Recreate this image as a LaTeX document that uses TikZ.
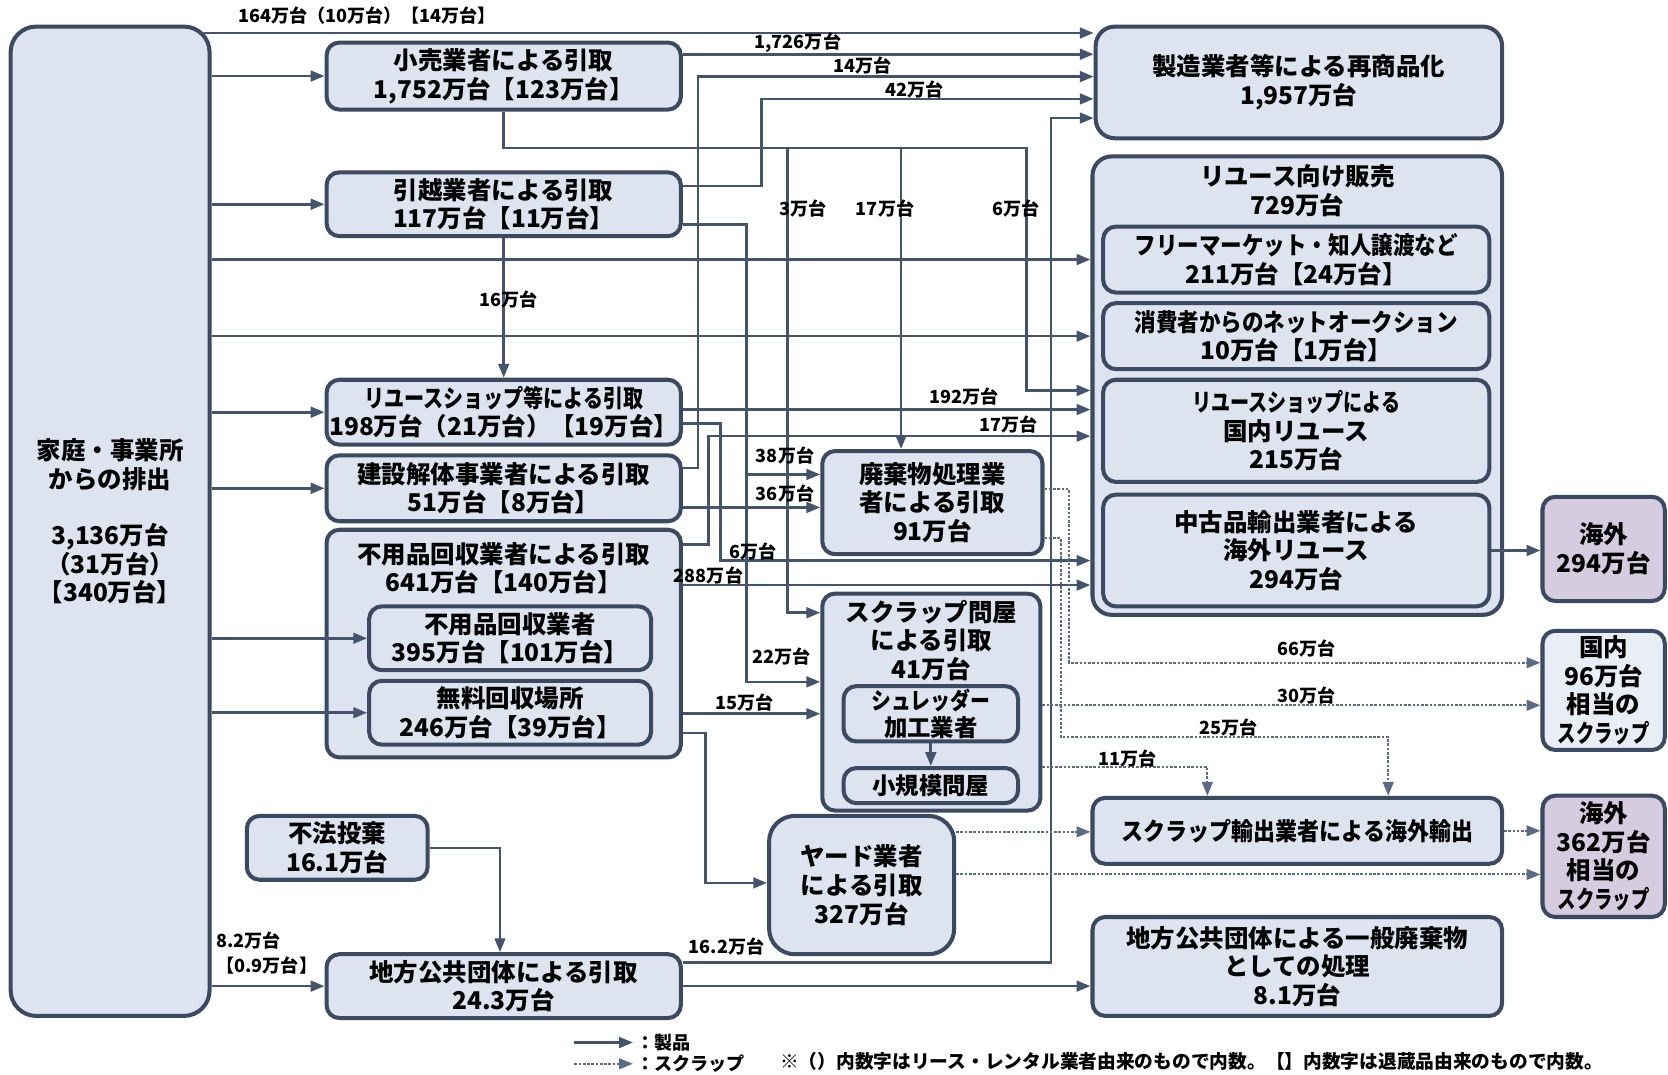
\documentclass[tikz,border=0pt]{standalone}
\usepackage{fontspec}
\setmainfont{Noto Sans CJK JP}
\usepackage{graphicx}
\usetikzlibrary{arrows.meta,calc}
\definecolor{bcol}{HTML}{3B4A61}
\definecolor{bfill}{HTML}{DDE3EF}
\definecolor{pfill}{HTML}{D5CCE0}
\definecolor{kfill}{HTML}{E9EDF5}
\definecolor{lcol}{HTML}{44546D}
\definecolor{scol}{HTML}{5B6B86}
\begin{document}
\begin{tikzpicture}[x=0.5pt,y=-0.5pt,
  bx/.style={draw=bcol, line width=1.9pt, rounded corners=6pt, fill=bfill, align=center, inner sep=0pt,
    font=\bfseries\fontsize{11.5}{13.5}\selectfont},
  txt/.style={align=center, inner sep=0pt, font=\bfseries\fontsize{11.5}{13.5}\selectfont},
  lbl/.style={inner sep=0pt, font=\bfseries\fontsize{8.5}{11.5}\selectfont},
  prod/.style={draw=lcol, line width=1.25pt, -{Triangle[length=6.5pt,width=5pt]}},
  scr/.style={draw=scol, line width=1pt, dash pattern=on 1.2pt off 0.8pt, -{Triangle[length=6.5pt,width=5pt]}}]
\useasboundingbox[fill=white] (0,0) rectangle (1568,1010);

% ---------- boxes ----------
\node[bx, rounded corners=12pt, minimum width=93.5pt, minimum height=465pt] (src) at (103.5,490)
  {家庭・事業所\\からの排出\\[13pt]3,136万台\\（31万台）\\【340万台】};
\node[bx, minimum width=166.5pt, minimum height=31.5pt] (kouri) at (473.5,71.5) {小売業者による引取\\1,752万台【123万台】};
\node[bx, minimum width=166.5pt, minimum height=30pt] (hikkoshi) at (473.5,192) {引越業者による引取\\117万台【11万台】};
\node[bx, minimum width=166.5pt, minimum height=30.5pt] (reuseshop) at (473.5,387.5) {\scalebox{0.82}[1]{リユースショップ等による引取}\\198万台（21万台）【19万台】};
\node[bx, minimum width=166.5pt, minimum height=31pt] (kensetsu) at (473.5,459) {建設解体事業者による引取\\51万台【8万台】};
\node[bx, minimum width=166.5pt, minimum height=107pt] (fuyou) at (473.5,605) {};
\node[txt] (fuyouT) at (473.5,534) {不用品回収業者による引取\\641万台【140万台】};
\node[bx, minimum width=132.5pt, minimum height=30pt] (fuyouin) at (479.5,600) {不用品回収業者\\395万台【101万台】};
\node[bx, minimum width=132.5pt, minimum height=30pt] (muryou) at (479.5,670) {無料回収場所\\246万台【39万台】};
\node[bx, minimum width=85pt, minimum height=30pt] (fuhou) at (317,797) {不法投棄\\16.1万台};
\node[bx, minimum width=166.5pt, minimum height=30pt] (chihou) at (473.5,927) {地方公共団体による引取\\24.3万台};

\node[bx, minimum width=103.5pt, minimum height=48.5pt] (haiki) at (876.5,472.5) {廃棄物処理業\\者による引取\\91万台};
\node[bx, minimum width=102.5pt, minimum height=102pt] (scrapton) at (875.5,660) {};
\node[txt] (scraptonT) at (875.5,602) {スクラップ問屋\\による引取\\41万台};
\node[bx, minimum width=82pt, minimum height=26pt, font=\bfseries\fontsize{11}{12.5}\selectfont] (shredder) at (875,671) {\scalebox{0.85}[1]{シュレッダー}\\加工業者};
\node[bx, minimum width=82pt, minimum height=16.5pt, font=\bfseries\fontsize{11}{12.5}\selectfont] (shoukibo) at (875,738.5) {小規模問屋};
\node[bx, rounded corners=12pt, minimum width=87pt, minimum height=65pt] (yard) at (810,832) {ヤード業者\\による引取\\327万台};

\node[bx, rounded corners=9pt, minimum width=191pt, minimum height=52.5pt] (seizo) at (1221,77.5) {製造業者等による再商品化\\1,957万台};
\node[bx, rounded corners=9pt, minimum width=192.5pt, minimum height=215.5pt] (reusesale) at (1219.5,362.5) {};
\node[txt] (reusesaleT) at (1219.5,179) {リユース向け販売\\729万台};
\node[bx, minimum width=181.5pt, minimum height=31pt] (flea) at (1218.5,244) {\scalebox{0.88}[1]{フリーマーケット・知人譲渡など}\\211万台【24万台】};
\node[bx, minimum width=181.5pt, minimum height=31pt] (netauc) at (1218.5,316) {\scalebox{0.88}[1]{消費者からのネットオークション}\\10万台【1万台】};
\node[bx, minimum width=181.5pt, minimum height=48pt] (domreuse) at (1218.5,405) {\scalebox{0.78}[1]{リユースショップによる}\\国内リユース\\215万台};
\node[bx, minimum width=181.5pt, minimum height=52.5pt] (export) at (1218.5,517.5) {中古品輸出業者による\\海外リユース\\294万台};
\node[bx, fill=pfill, minimum width=57.5pt, minimum height=49pt] (kaigai1) at (1507.5,516) {海外\\294万台};
\node[bx, fill=kfill, minimum width=57.5pt, minimum height=56pt] (kokunai) at (1507.5,649) {国内\\96万台\\相当の\\\scalebox{0.75}[1]{スクラップ}};
\node[bx, minimum width=192.5pt, minimum height=31pt] (scrapexp) at (1219.5,781) {\scalebox{0.9}[1]{スクラップ輸出業者による海外輸出}};
\node[bx, fill=pfill, minimum width=57.5pt, minimum height=57pt] (kaigai2) at (1507.5,805) {海外\\362万台\\相当の\\\scalebox{0.75}[1]{スクラップ}};
\node[bx, minimum width=192.5pt, minimum height=46.5pt] (ippan) at (1219.5,908.5) {地方公共団体による一般廃棄物\\としての処理\\8.1万台};

% ---------- product flows ----------
\draw[prod] ($(src.east |- 0,31)+(-7,0)$) -- (seizo.west |- 0,31);
\draw[prod] (src.east |- kouri.west) -- (kouri.west);
\draw[prod] (src.east |- hikkoshi.west) -- (hikkoshi.west);
\draw[prod] (src.east |- flea.west) -- (reusesale.west |- flea.west);
\draw[prod] (src.east |- netauc.west) -- (reusesale.west |- netauc.west);
\draw[prod] (src.east |- reuseshop.west) -- (reuseshop.west);
\draw[prod] (src.east |- kensetsu.west) -- (kensetsu.west);
\draw[prod] (src.east |- fuyouin.west) -- (fuyouin.west);
\draw[prod] (src.east |- muryou.west) -- (muryou.west);
\draw[prod] (src.east |- chihou.west) -- (chihou.west);

\draw[prod] (kouri.east |- 0,51) -- (seizo.west |- 0,51);
\draw[prod] (kouri.south) |- (965,139) |- (reusesale.west |- 0,367);
\draw[prod] (kouri.south) |- (740,139) |- (scrapton.west |- 0,576);
\draw[prod] (kouri.south) |- (847,139) -- (haiki.north -| 847,0);

\draw[prod] (hikkoshi.east |- 0,175) -| (716,93) -- (seizo.west |- 0,93);
\draw[prod] (hikkoshi.east |- 0,211) -| (702,641) -- (scrapton.west |- 0,641);
\draw[prod] (hikkoshi.east |- 0,211) -| (702,446) -- (haiki.west |- 0,446);
\draw[prod] (hikkoshi.south) -- (reuseshop.north);

\draw[prod] (reuseshop.east |- 0,385) -- (reusesale.west |- 0,385);
\draw[prod] (reuseshop.east |- 0,398) -| (677,527) -- (reusesale.west |- 0,527);

\draw[prod] (kensetsu.east |- 0,440) -| (656,72) -- (seizo.west |- 0,72);
\draw[prod] (kensetsu.east |- 0,477) -- (haiki.west |- 0,477);

\draw[prod] (fuyou.east |- 0,512) -| (666,410) -- (reusesale.west |- 0,410);
\draw[prod] (fuyou.east |- 0,550) -- (reusesale.west |- 0,550);
\draw[prod] (fuyou.east |- 0,671) -- (scrapton.west |- 0,671);
\draw[prod] (fuyou.east |- 0,689) -| (663,830) -- (yard.west |- 0,830);

\draw[prod] (fuhou.east) -| (chihou.north -| 470,0);
\draw[prod] (chihou.east |- 0,905) -| (988,111) -- (seizo.west |- 0,111);
\draw[prod] (chihou.east) -- (ippan.west |- chihou.east);
\draw[prod] (export.east) -- (kaigai1.west |- export.east);
\draw[prod] (shredder.south) -- (shoukibo.north);

% ---------- scrap flows ----------
\draw[scr] (haiki.east |- 0,460) -| (1005,623) -- (kokunai.west |- 0,623);
\draw[scr] (haiki.east |- 0,506) -| (997,693) -| (scrapexp.north -| 1305,0);
\draw[scr] (scrapton.east |- 0,663) -- (kokunai.west |- 0,663);
\draw[scr] (scrapton.east |- 0,721) -| (scrapexp.north -| 1135,0);
\draw[scr] (yard.east |- 0,782) -- (scrapexp.west |- 0,782);
\draw[scr] (yard.east |- 0,822) -- (kaigai2.west |- 0,822);
\draw[scr] (scrapexp.east) -- (kaigai2.west |- scrapexp.east);

% ---------- labels ----------
\node[lbl] (l164) at (345,15) {164万台（10万台）【14万台】};
\node[lbl] (l1726) at (750,40) {1,726万台};
\node[lbl] (l14) at (811,62) {14万台};
\node[lbl] (l42) at (860,84) {42万台};
\node[lbl] (l3) at (755,196) {3万台};
\node[lbl] (l17a) at (832,196) {17万台};
\node[lbl] (l6a) at (955,196) {6万台};
\node[lbl] (l16) at (478,282) {16万台};
\node[lbl] (l192) at (906,373) {192万台};
\node[lbl] (l17b) at (948,399) {17万台};
\node[lbl] (l38) at (738,428) {38万台};
\node[lbl] (l36) at (738,464) {36万台};
\node[lbl] (l6b) at (708,518) {6万台};
\node[lbl] (l288) at (666,541) {288万台};
\node[lbl] (l22) at (735,617) {22万台};
\node[lbl] (l15) at (700,660) {15万台};
\node[lbl] (l162) at (683,890) {16.2万台};
\node[lbl, anchor=west, align=left] (l82) at (203,896) {8.2万台\\【0.9万台】};
\node[lbl] (l66) at (1228,610) {66万台};
\node[lbl] (l30) at (1228,654) {30万台};
\node[lbl] (l25) at (1155,684) {25万台};
\node[lbl] (l11) at (1060,713) {11万台};

% ---------- legend ----------
\coordinate (lg1a) at (540,980); \coordinate (lg1b) at (595,980);
\coordinate (lg2a) at (540,1000); \coordinate (lg2b) at (595,1000);
\draw[prod] (lg1a) -- (lg1b);
\draw[scr] (lg2a) -- (lg2b);
\node[lbl, anchor=west] (lgt1) at (598,980) {：製品};
\node[lbl, anchor=west] (lgt2) at (598,1000) {：スクラップ};
\node[lbl, anchor=west, font=\bfseries\fontsize{8.8}{11}\selectfont] (note) at (733,998) {※（）内数字はリース・レンタル業者由来のもので内数。【】内数字は退蔵品由来のもので内数。};
\end{tikzpicture}
\end{document}
